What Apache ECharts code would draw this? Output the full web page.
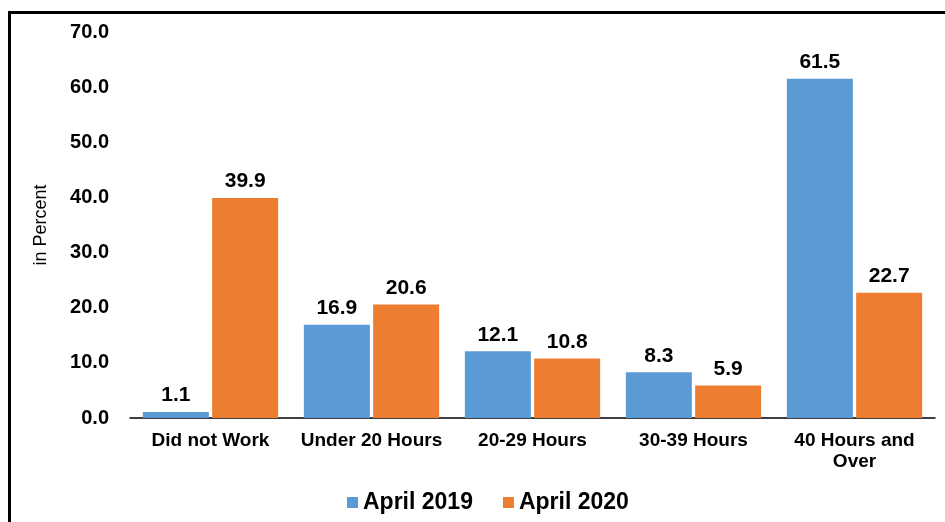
<!DOCTYPE html>
<html>
<head>
<meta charset="utf-8">
<script src="https://cdn.jsdelivr.net/npm/echarts@6/dist/echarts.min.js"></script>
<style>
html, body { margin: 0; padding: 0; background: #fff; }
#main { width: 945px; height: 522px; }
</style>
</head>
<body>
<div id="main"></div>
<script>
var categories = ['Did not Work', 'Under 20 Hours', '20-29 Hours', '30-39 Hours', '40 Hours and\nOver'];
var april2019 = [1.1, 16.9, 12.1, 8.3, 61.5];
var april2020 = [39.9, 20.6, 10.8, 5.9, 22.7];

var chart = echarts.init(document.getElementById('main'));
var font = 'Liberation Sans, Arial, sans-serif';

var labelStyle = {
    show: true,
    position: 'top',
    distance: 6,
    color: '#000',
    fontFamily: font,
    fontWeight: 'bold',
    fontSize: 21,
    formatter: function (p) { return p.value.toFixed(1); }
};

var option = {
    animation: false,
    graphic: [{
        type: 'rect',
        shape: { x: 9.5, y: 12.5, width: 1000, height: 1000 },
        style: { fill: 'none', stroke: '#000', lineWidth: 3 },
        silent: true
    }],
    grid: { left: 130, right: 10, top: 32, bottom: 104 },
    legend: {
        top: 486,
        left: 342,
        itemWidth: 11,
        itemHeight: 11,
        itemGap: 30,
        icon: 'rect',
        textStyle: {
            fontFamily: font,
            fontWeight: 'bold',
            fontSize: 23,
            color: '#000'
        },
        data: ['April 2019', 'April 2020']
    },
    xAxis: {
        type: 'category',
        data: categories,
        axisLine: { lineStyle: { color: '#000', width: 1.5 } },
        axisTick: { show: false },
        axisLabel: {
            color: '#000',
            fontFamily: font,
            fontWeight: 'bold',
            fontSize: 19,
            lineHeight: 21,
            margin: 12,
            interval: 0
        }
    },
    yAxis: {
        type: 'value',
        min: 0,
        max: 70,
        interval: 10,
        name: 'in Percent',
        nameLocation: 'middle',
        nameGap: 80,
        nameTextStyle: {
            color: '#000',
            fontFamily: font,
            fontSize: 18
        },
        axisLine: { show: false },
        axisTick: { show: false },
        splitLine: { show: false },
        axisLabel: {
            color: '#000',
            fontFamily: font,
            fontWeight: 'bold',
            fontSize: 20,
            margin: 21,
            formatter: function (v) { return v.toFixed(1); }
        }
    },
    series: [{
        name: 'April 2019',
        type: 'bar',
        data: april2019,
        barWidth: 66,
        barGap: '5%',
        itemStyle: { color: '#5B9BD5' },
        label: labelStyle
    }, {
        name: 'April 2020',
        type: 'bar',
        data: april2020,
        barWidth: 66,
        barGap: '5%',
        itemStyle: { color: '#ED7D31' },
        label: labelStyle
    }]
};

chart.setOption(option);
</script>
</body>
</html>
